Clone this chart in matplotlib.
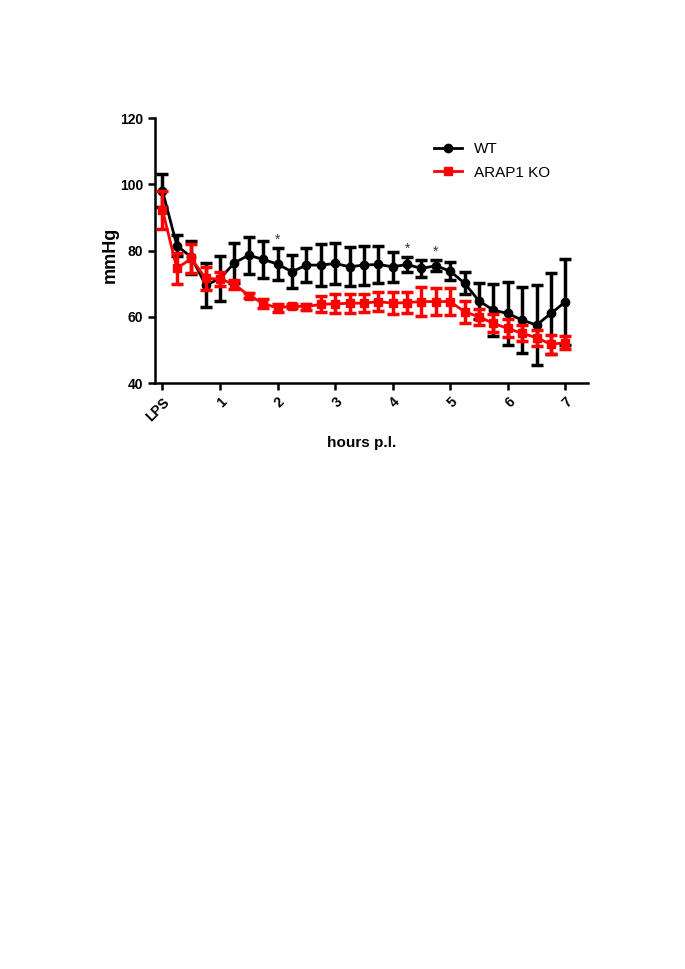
import numpy as np
import matplotlib
matplotlib.use("Agg")
import matplotlib.pyplot as plt

plt.rcParams['font.family'] = ['Liberation Sans', 'DejaVu Sans']

hours = np.arange(0, 7.01, 0.25)

wt_mean = [98, 81.5, 78, 69.6, 71.5, 76.3, 78.6, 77.3, 75.9, 73.6,
           75.6, 75.6, 76.1, 75.1, 75.6, 75.8, 75.1, 75.8, 74.6, 75.4,
           73.8, 70.1, 64.8, 62, 61, 59, 57.5, 61, 64.5]
wt_err = [5, 3.2, 5, 6.5, 6.7, 6, 5.6, 5.7, 4.8, 5,
          5.2, 6.4, 6.3, 5.9, 5.9, 5.5, 4.5, 2.2, 2.5, 1.7,
          2.6, 3.3, 5.5, 7.8, 9.5, 10, 12, 12.3, 13]

ko_mean = [92.2, 74.6, 77.6, 71.6, 71.4, 69.8, 66.4, 64.1, 62.6, 63.3,
           63, 63.8, 63.9, 64.1, 64.1, 64.6, 64.1, 64.3, 64.6, 64.6,
           64.6, 61.5, 60, 58, 56.5, 55, 53.7, 51.7, 52.2]
ko_err = [5.8, 4.6, 4.3, 3.4, 2.2, 1.4, 0.8, 1.3, 1.2, 0.7,
          0.8, 2.4, 2.9, 2.9, 2.7, 2.9, 3.3, 3.3, 4.3, 4,
          4, 3.4, 2.5, 2.7, 2.7, 2.4, 2.4, 2.8, 1.9]

star_hours = [2.0, 4.25, 4.75]

xtick_pos = [0, 1, 2, 3, 4, 5, 6, 7]
xtick_labels = ['LPS', '1', '2', '3', '4', '5', '6', '7']

fig = plt.figure(figsize=(6.85, 9.69), dpi=100)
ax = fig.add_axes([0.2263, 0.6047, 0.858 - 0.2263, 0.8782 - 0.6047])

ax.errorbar(hours, wt_mean, yerr=wt_err, color='black', marker='o', ms=6,
            lw=2, elinewidth=2.5, capsize=4, capthick=2.5, label='WT', zorder=3)
ax.errorbar(hours, ko_mean, yerr=ko_err, color='#ff0000', marker='s', ms=6,
            lw=2, elinewidth=2.5, capsize=4, capthick=2.5, label='ARAP1 KO', zorder=4)

# significance marks above WT bars
for h in star_hours:
    i = list(hours).index(h)
    ax.text(h, wt_mean[i] + wt_err[i] + 0.3, '*', ha='center', va='bottom',
            fontsize=10, color='#333333')

ax.set_xlim(-0.13, 7.39)
ax.set_ylim(40, 120)
ax.set_yticks([40, 60, 80, 100, 120])
ax.set_xticks(xtick_pos)
ax.set_xticklabels(xtick_labels, rotation=45, ha='right', rotation_mode='anchor')

for s in ['top', 'right']:
    ax.spines[s].set_visible(False)
for s in ['left', 'bottom']:
    ax.spines[s].set_linewidth(1.8)
ax.tick_params(width=1.8, length=5, labelsize=10)
for lab in ax.get_xticklabels() + ax.get_yticklabels():
    lab.set_fontweight('bold')

ax.set_ylabel('mmHg', fontsize=13, fontweight='bold')
ax.yaxis.set_label_coords(-0.083, 0.483)
ax.set_xlabel('hours p.l.', fontsize=11, fontweight='bold')
ax.xaxis.set_label_coords(0.478, -0.2)

handles, labels = ax.get_legend_handles_labels()
handles = [h[0] for h in handles]
ax.legend(handles, labels, loc='upper left', bbox_to_anchor=(0.613, 0.96),
          frameon=False, fontsize=11, handlelength=1.8, labelspacing=0.6)

fig.savefig('out.png', dpi=100)
